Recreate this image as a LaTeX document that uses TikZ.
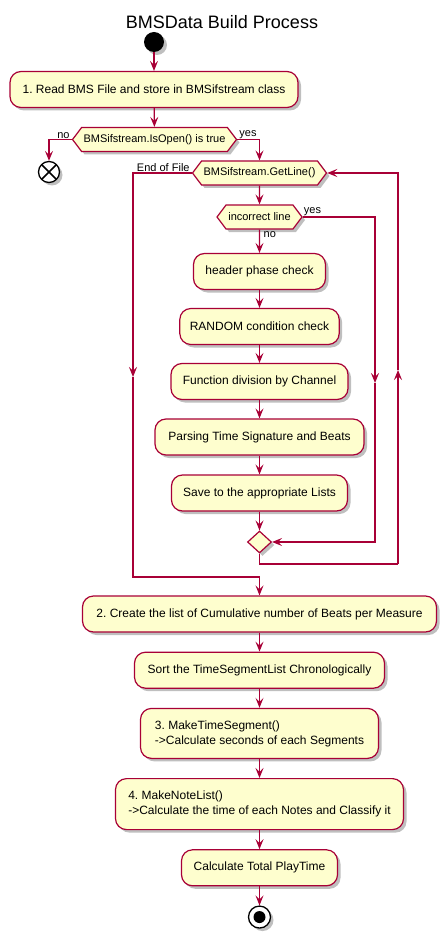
\documentclass[tikz,border=0pt]{standalone}
\usepackage{fontspec}
\setmainfont{Liberation Sans}
\usepackage{xcolor}
\usetikzlibrary{shapes.geometric, shapes.symbols, arrows.meta, positioning, shadows}
\frenchspacing

\definecolor{umlred}{HTML}{A80036}
\definecolor{umlfill}{HTML}{FEFECE}

\begin{document}
\begin{tikzpicture}[x=1pt, y=-1pt,
    shade/.style={drop shadow={shadow xshift=3pt, shadow yshift=-3pt, opacity=0.25, fill=black}},
    act/.style={rectangle, draw=umlred, fill=umlfill, rounded corners=11pt, line width=1.2pt, minimum height=36pt, inner xsep=10pt, align=center, font=\fontsize{12}{15}\selectfont, shade},
    decision/.style={signal, signal to=west and east, signal pointer angle=106, draw=umlred, fill=umlfill, line width=1.2pt, minimum height=24pt, inner xsep=2pt, font=\fontsize{11}{13}\selectfont, shade},
    merge/.style={diamond, draw=umlred, fill=umlfill, line width=1.2pt, minimum width=24pt, minimum height=22pt, inner sep=0pt, shade},
    lbl/.style={font=\fontsize{11}{13}\selectfont, inner sep=1pt},
    flow/.style={draw=umlred, line width=1.2pt, -{Stealth[length=10pt, width=8pt, inset=4pt]}},
    wire/.style={draw=umlred, line width=1.2pt}
]
\useasboundingbox (0,0) rectangle (446,933);

\node[font=\fontsize{18}{22}\selectfont] (title) at (222,22) {BMSData Build Process};
\node[circle, fill=black, minimum size=20pt, inner sep=0pt, shade] (start) at (154,42) {};
\node[act, minimum width=288pt] (read) at (154,89.5) {1. Read BMS File and store in BMSifstream class};
\node[decision, minimum width=163pt] (isopen) at (154.5,139.5) {BMSifstream.IsOpen() is true};
\node[circle, draw=black, fill=white, line width=1.3pt, minimum size=21pt, inner sep=0pt, shade,
      path picture={\draw[black, line width=1.6pt] (path picture bounding box.south west) -- (path picture bounding box.north east)
                    (path picture bounding box.north west) -- (path picture bounding box.south east);}] (abort) at (49,172) {};

% reading loop
\node[decision, minimum width=131pt] (getline) at (259.5,173) {BMSifstream.GetLine()};
\node[decision, minimum width=85pt] (incorrect) at (259.5,217) {incorrect line};
\node[act, minimum width=132pt] (header) at (259.5,271.5) {header phase check};
\node[act, minimum width=159pt] (random) at (259.5,326.5) {RANDOM condition check};
\node[act, minimum width=177pt] (channel) at (259.5,381.5) {Function division by Channel};
\node[act, minimum width=209pt] (parse) at (259.5,437) {Parsing Time Signature and Beats};
\node[act, minimum width=176pt] (save) at (259.5,493) {Save to the appropriate Lists};
\node[merge] (join) at (259.5,542) {};

% after the loop
\node[act, minimum width=354pt] (cumul) at (259.5,614) {2. Create the list of Cumulative number of Beats per Measure};
\node[act, minimum width=250pt, below=19pt of cumul] (sortseg) {Sort the TimeSegmentList Chronologically};
\node[act, minimum width=238pt, minimum height=50pt, align=left, below=19pt of sortseg] (mkseg) {3. MakeTimeSegment()\\->Calculate seconds of each Segments};
\node[act, minimum width=288pt, minimum height=51pt, align=left, below=19pt of mkseg] (mknote) {4. MakeNoteList()\\->Calculate the time of each Notes and Classify it};
\node[act, minimum width=156pt, below=19pt of mknote] (total) {Calculate Total PlayTime};
\node[circle, draw=black, fill=white, line width=1.3pt, minimum size=22pt, inner sep=0pt, shade,
      path picture={\fill[black] (path picture bounding box.center) circle (6pt);}, below=19pt of total] (stop) {};

% bends
\coordinate (eofmid) at (133,377);
\coordinate (eofend) at (259.5,577);
\coordinate (yesmid) at (375,383);
\coordinate (backcorner) at (398,564);
\coordinate (backmid) at (398,370);

% labels
\node[lbl, anchor=south east] (nolbl) at ([xshift=-1pt]isopen.west) {no};
\node[lbl, anchor=south west] (yeslbl) at ([xshift=1pt]isopen.east) {yes};
\node[lbl, anchor=south east] (eoflbl) at ([xshift=-1pt]getline.west) {End of File};
\node[lbl, anchor=south west] (badyes) at ([xshift=0pt]incorrect.east) {yes};
\node[lbl, anchor=north west] (badno) at ([xshift=3pt, yshift=-1pt]incorrect.south) {no};

% connectors
\draw[flow] (start) -- (read);
\draw[flow] (read) -- (isopen);
\draw[flow] (isopen.west) -| (abort);
\draw[flow] (isopen.east) -| (getline);
\draw[flow] (getline) -- (incorrect);
\draw[flow] (incorrect) -- (header);
\draw[flow] (header) -- (random);
\draw[flow] (random) -- (channel);
\draw[flow] (channel) -- (parse);
\draw[flow] (parse) -- (save);
\draw[flow] (save) -- (join);
\draw[flow] (incorrect.east) -| (yesmid);
\draw[flow] (yesmid) |- (join.east);
\draw[wire] (join.south) |- (backcorner);
\draw[flow] (backcorner) -- (backmid);
\draw[flow] (backmid) |- (getline.east);
\draw[flow] (getline.west) -| (eofmid);
\draw[wire] (eofmid) |- (eofend);
\draw[flow] (eofend) -- (cumul);
\draw[flow] (cumul) -- (sortseg);
\draw[flow] (sortseg) -- (mkseg);
\draw[flow] (mkseg) -- (mknote);
\draw[flow] (mknote) -- (total);
\draw[flow] (total) -- (stop);
\end{tikzpicture}
\end{document}
